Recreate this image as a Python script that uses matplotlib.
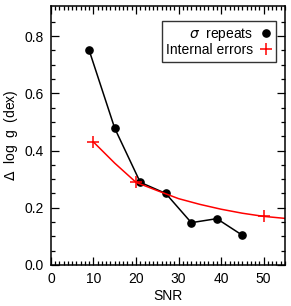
import numpy as np
import matplotlib.pyplot as plt
from matplotlib.lines import Line2D

plt.rcParams['font.family'] = ['Liberation Sans', 'DejaVu Sans']

# sigma from repeat observations
snr_rep = [9, 15, 21, 27, 33, 39, 45]
sig_rep = [0.75, 0.478, 0.289, 0.25, 0.148, 0.162, 0.104]

# internal error points and the curve through them
snr_int = [10, 20, 50]
err_int = [0.43, 0.289, 0.17]
snr_curve = [10, 15, 20, 25, 30, 35, 40, 45, 50, 55]
err_curve = [0.43, 0.356, 0.289, 0.26, 0.232, 0.212, 0.195, 0.181, 0.17, 0.163]

fig = plt.figure(figsize=(2.91, 3.06), dpi=100)
ax = fig.add_axes([0.175, 0.134, 0.804, 0.846])

ax.plot(snr_rep, sig_rep, color='k', lw=1.1, marker='o', ms=5.2)
ax.plot(snr_curve, err_curve, color='red', lw=1.1)
ax.plot(snr_int, err_int, color='red', lw=0, marker='+', ms=9, mew=1.1)

ax.set_xlim(0, 55)
ax.set_ylim(0, 0.905)
ax.set_xticks(np.arange(0, 51, 10))
ax.set_xticks(np.arange(0, 56, 1), minor=True)
ax.set_yticks(np.arange(0, 0.81, 0.2))
ax.set_yticks(np.arange(0, 0.9, 0.05), minor=True)
ax.set_yticklabels(['0.0', '0.2', '0.4', '0.6', '0.8'])
ax.tick_params(which='both', direction='in', top=True, right=True,
               labelsize=10, width=0.9)
ax.tick_params(which='major', length=6, pad=5)
ax.tick_params(which='minor', length=3)
for s in ax.spines.values():
    s.set_linewidth(1.1)

ax.set_xlabel('SNR', fontsize=10, labelpad=2)
ax.set_ylabel(r'$\Delta$  log  g  (dex)', fontsize=10, labelpad=3)

handles = [Line2D([], [], color='k', lw=0, marker='o', ms=5.2),
           Line2D([], [], color='red', lw=0, marker='+', ms=8, mew=1.1)]
leg = ax.legend(handles, [r'$\sigma$  repeats', 'Internal errors'],
                loc='upper right', markerfirst=False, fontsize=10,
                frameon=True, fancybox=False, edgecolor='k',
                handlelength=0.8, handletextpad=0.5, borderpad=0.35,
                labelspacing=0.0, borderaxespad=0,
                bbox_to_anchor=(0.964, 0.942))
leg.get_frame().set_linewidth(1.0)
for t in leg.get_texts():
    t.set_ha('right')

fig.savefig('out.png', dpi=100)
